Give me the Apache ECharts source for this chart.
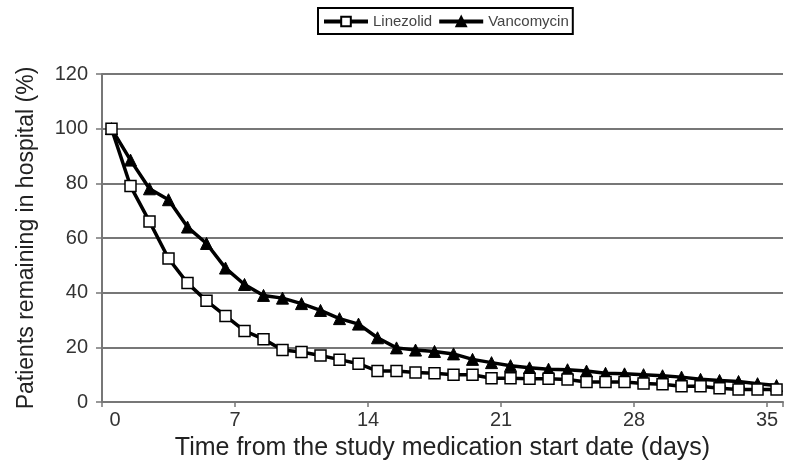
<!DOCTYPE html>
<html>
<head>
<meta charset="utf-8">
<script src="https://cdn.jsdelivr.net/npm/echarts@6/dist/echarts.min.js"></script>
<style>
  html, body { margin: 0; padding: 0; background: #fff; }
  #chart { width: 785px; height: 464px; }
</style>
</head>
<body>
<div id="chart"></div>
<script>
  // days since start of study medication (each point sits in the middle of its day)
  const days = [0, 1, 2, 3, 4, 5, 6, 7, 8, 9, 10, 11, 12, 13, 14, 15, 16, 17,
    18, 19, 20, 21, 22, 23, 24, 25, 26, 27, 28, 29, 30, 31, 32, 33, 34, 35];

  const linezolid = [100, 79, 66, 52.5, 43.5, 37, 31.5, 26, 23, 19, 18.3, 17,
    15.5, 14, 11.3, 11.3, 10.8, 10.5, 10, 10, 8.7, 8.7, 8.5, 8.5, 8.2, 7.3,
    7.3, 7.3, 6.8, 6.5, 5.8, 5.8, 5, 4.6, 4.6, 4.6];

  const vancomycin = [100, 88.5, 78, 74, 64, 58, 49, 43, 39, 38, 36, 33.5,
    30.5, 28.5, 23.5, 19.8, 19, 18.5, 17.6, 15.6, 14.4, 13.3, 12.5, 12, 11.8,
    11.3, 10.5, 10.3, 10, 9.6, 9.1, 8.3, 7.9, 7.5, 6.7, 6];

  const xTicks = [0, 7, 14, 21, 28, 35];
  const yTicks = [0, 20, 40, 60, 80, 100, 120];

  const font = "'Liberation Sans', Arial, sans-serif";
  const pairs = (vals) => days.map((d, i) => [d + 0.5, vals[i]]);

  const myChart = echarts.init(document.getElementById("chart"));

  const option = {
    animation: false,
    backgroundColor: "#fff",
    textStyle: { fontFamily: font },
    legend: {
      top: 8,
      left: 318,
      padding: [6, 4, 5, 4],
      itemGap: 5,
      itemWidth: 44,
      itemHeight: 12,
      borderColor: "#000",
      borderWidth: 2,
      borderRadius: 0,
      lineStyle: { width: 4 },
      textStyle: { color: "#444", fontSize: 15, fontFamily: font },
      data: ["Linezolid", "Vancomycin"],
    },
    grid: {
      left: 102,
      right: 2,
      top: 74,
      bottom: 62,
      outerBoundsMode: "none",
    },
    xAxis: {
      type: "value",
      min: 0,
      max: 35.84,
      interval: 7,
      name: "Time from the study medication start date (days)",
      nameLocation: "middle",
      nameGap: 34,
      nameTextStyle: { color: "#222", fontSize: 25, fontFamily: font },
      axisLine: { lineStyle: { color: "#777", width: 2 } },
      axisTick: { show: true, length: 5, lineStyle: { color: "#777", width: 1.5 } },
      axisLabel: {
        color: "#333",
        fontSize: 20,
        margin: 8,
        formatter: (v) => {
          if (v === 0) return "{z|0}";
          return xTicks.includes(v) ? String(v) : "";
        },
        rich: {
          z: { color: "#333", fontSize: 20, fontFamily: font, padding: [0, 0, 0, 26] },
        },
      },
      splitLine: { show: false },
    },
    yAxis: {
      type: "value",
      min: yTicks[0],
      max: yTicks[yTicks.length - 1],
      interval: 20,
      name: "Patients remaining in hospital (%)",
      nameLocation: "middle",
      nameGap: 64,
      nameTextStyle: { color: "#222", fontSize: 23, fontFamily: font },
      axisLine: { show: true, lineStyle: { color: "#777", width: 2 } },
      axisTick: { show: true, inside: false, length: 6, lineStyle: { color: "#777", width: 1.5 } },
      axisLabel: { color: "#333", fontSize: 20, margin: 14 },
      splitLine: { show: true, lineStyle: { color: "#777", width: 2 } },
    },
    series: [
      {
        name: "Linezolid",
        type: "line",
        data: pairs(linezolid),
        symbol: "rect",
        symbolSize: 11,
        z: 3,
        lineStyle: { color: "#000", width: 3.5 },
        itemStyle: { color: "#fff", borderColor: "#000", borderWidth: 1.5 },
      },
      {
        name: "Vancomycin",
        type: "line",
        data: pairs(vancomycin),
        symbol: "triangle",
        symbolSize: 12,
        z: 2,
        lineStyle: { color: "#000", width: 3.5 },
        itemStyle: { color: "#000", borderColor: "#000", borderWidth: 1 },
      },
    ],
  };

  option && myChart.setOption(option);
</script>
</body>
</html>
